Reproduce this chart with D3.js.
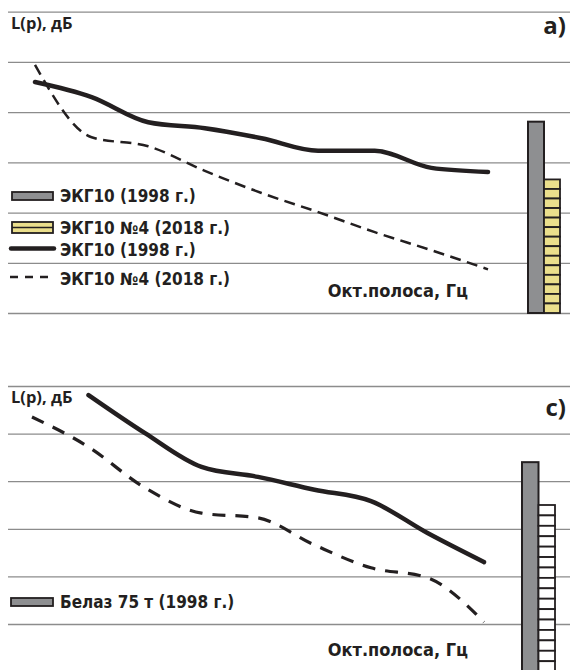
<!DOCTYPE html>
<html>
<head>
<meta charset="utf-8">
<script src="https://cdn.jsdelivr.net/npm/d3@7"></script>
<style>
  body { margin: 0; background: #fff; }
  .cond { font-family: "Liberation Sans Narrow", "DejaVu Sans Condensed", "Roboto Condensed", sans-serif; font-weight: bold; fill: #231f20; }
  .sans { font-family: "Open Sans", "Noto Sans", sans-serif; font-weight: bold; fill: #231f20; }
</style>
</head>
<body>
<svg id="chart" width="570" height="670"></svg>
<script>
// =====================
// DATA
// =====================
const bands = ["31,5", "63", "125", "250", "500", "1000", "2000", "4000", "8000"];

// panel a) – ЭКГ10
const topSolid  = [96.0, 93.0, 88.0, 86.8, 84.8, 82.3, 82.3, 78.9, 78.1];
const topDashed = [99.4, 85.0, 83.2, 78.3, 73.9, 70.1, 66.1, 62.5, 58.7];
const topBars   = [88.1, 76.6];

// panel c) – Белаз 75 т
const botSolid  = [null, 108.1, 100.1, 93.0, 90.9, 88.2, 85.8, 79.1, 73.0];
const botDashed = [103.5, 97.2, 88.6, 83.3, 82.3, 76.6, 71.8, 69.7, 60.4];
const botBars   = [94.0, 85.0];

const barKeys = ["1998", "2018"];
const topLegend = ["ЭКГ10 (1998 г.)", "ЭКГ10 №4 (2018 г.)", "ЭКГ10 (1998 г.)", "ЭКГ10 №4 (2018 г.)"];
const botLegend = ["Белаз 75 т (1998 г.)"];

const dark = "#231f20",
      grey = "#8e8f91",
      yellow = "#ebdf8c",
      gridColor = "#8c8c8c";

const svg = d3.select("#chart");

// =====================
// PANEL
// =====================
function drawPanel(opt) {
  const g = svg.append("g");

  const x = d3.scalePoint().domain(bands).range(opt.xRange);
  const y = d3.scaleLinear().domain([50, 110]).range(opt.yRange);

  // grid
  g.append("g")
    .attr("transform", "translate(570,0)")
    .call(d3.axisLeft(y).ticks(6).tickSize(562).tickFormat(""))
    .call(a => a.select(".domain").remove())
    .selectAll("line")
    .attr("stroke", gridColor)
    .attr("stroke-width", 1.3);

  // label
  g.append("text").attr("class", "sans")
    .attr("x", 11).attr("y", opt.labelY)
    .style("font-size", "16.5px")
    .text("L(p), дБ");

  g.append("text").attr("class", "sans")
    .attr("x", 566).attr("y", opt.letterY)
    .attr("text-anchor", "end")
    .style("font-size", "24px")
    .text(opt.letter);

  g.append("text").attr("class", "cond")
    .attr("x", 468).attr("y", opt.axisLabelY)
    .attr("text-anchor", "end")
    .style("font-size", "18px")
    .text("Окт.полоса, Гц");

  // lines
  const line = d3.line()
    .defined(d => d != null)
    .x((d, i) => x(bands[i]))
    .y(d => y(d))
    .curve(d3.curveMonotoneX);

  g.append("path")
    .attr("d", line(opt.dashed))
    .attr("fill", "none")
    .attr("stroke", dark)
    .attr("stroke-width", opt.dashWidth)
    .attr("stroke-dasharray", opt.dash);

  g.append("path")
    .attr("d", line(opt.solid))
    .attr("fill", "none")
    .attr("stroke", dark)
    .attr("stroke-width", 4.5)
    .attr("stroke-linecap", "round");

  // bars
  const xb = d3.scaleBand().domain(barKeys).range(opt.barRange);
  const base = y(50);

  g.append("rect")
    .attr("x", xb("1998")).attr("y", y(opt.bars[0]))
    .attr("width", xb.bandwidth()).attr("height", base - y(opt.bars[0]))
    .attr("fill", grey).attr("stroke", dark).attr("stroke-width", 2);

  const top2 = y(opt.bars[1]);
  const step = (base - top2) / opt.cells;
  g.selectAll(".cell")
    .data(d3.range(opt.cells))
    .join("rect")
    .attr("class", "cell")
    .attr("x", xb("2018")).attr("y", i => top2 + i * step)
    .attr("width", xb.bandwidth()).attr("height", step)
    .attr("fill", opt.cellFill).attr("stroke", dark).attr("stroke-width", 1.8);

  return g;
}

const gTop = drawPanel({
  xRange: [35, 488], yRange: [313, 11.7],
  solid: topSolid, dashed: topDashed, bars: topBars,
  barRange: [528, 560], cells: 14, cellFill: yellow,
  dash: "11,6.5", dashWidth: 2.5,
  letter: "a)", labelY: 29, letterY: 34, axisLabelY: 297
});

const gBot = drawPanel({
  xRange: [32, 484], yRange: [671.6, 386],
  solid: botSolid, dashed: botDashed, bars: botBars,
  barRange: [522, 555], cells: 16, cellFill: "#fff",
  dash: "13,10", dashWidth: 3.2,
  letter: "c)", labelY: 403, letterY: 416, axisLabelY: 656
});

// =====================
// LEGEND
// =====================
const legTop = gTop.append("g");

legTop.append("rect")
  .attr("x", 12).attr("y", 192).attr("width", 41).attr("height", 8)
  .attr("fill", grey).attr("stroke", dark).attr("stroke-width", 1.8);

legTop.append("rect")
  .attr("x", 12).attr("y", 222).attr("width", 41).attr("height", 11)
  .attr("fill", yellow).attr("stroke", dark).attr("stroke-width", 1.8);
legTop.append("line")
  .attr("x1", 12).attr("x2", 53).attr("y1", 227.5).attr("y2", 227.5)
  .attr("stroke", dark).attr("stroke-width", 1.5);

legTop.append("line")
  .attr("x1", 11).attr("x2", 54).attr("y1", 248.5).attr("y2", 248.5)
  .attr("stroke", dark).attr("stroke-width", 4.5).attr("stroke-linecap", "round");

legTop.append("line")
  .attr("x1", 10).attr("x2", 55).attr("y1", 277).attr("y2", 277)
  .attr("stroke", dark).attr("stroke-width", 2.5).attr("stroke-dasharray", "8,7");

legTop.selectAll("text")
  .data(topLegend)
  .join("text")
  .attr("class", "cond")
  .attr("x", 60)
  .attr("y", (d, i) => [201.5, 234, 256, 285][i])
  .style("font-size", "17px")
  .text(d => d);

const legBot = gBot.append("g");
legBot.append("rect")
  .attr("x", 11).attr("y", 598).attr("width", 42).attr("height", 8)
  .attr("fill", grey).attr("stroke", dark).attr("stroke-width", 1.8);
legBot.selectAll("text")
  .data(botLegend)
  .join("text")
  .attr("class", "cond")
  .attr("x", 60).attr("y", 608)
  .style("font-size", "17px")
  .text(d => d);
</script>
</body>
</html>
